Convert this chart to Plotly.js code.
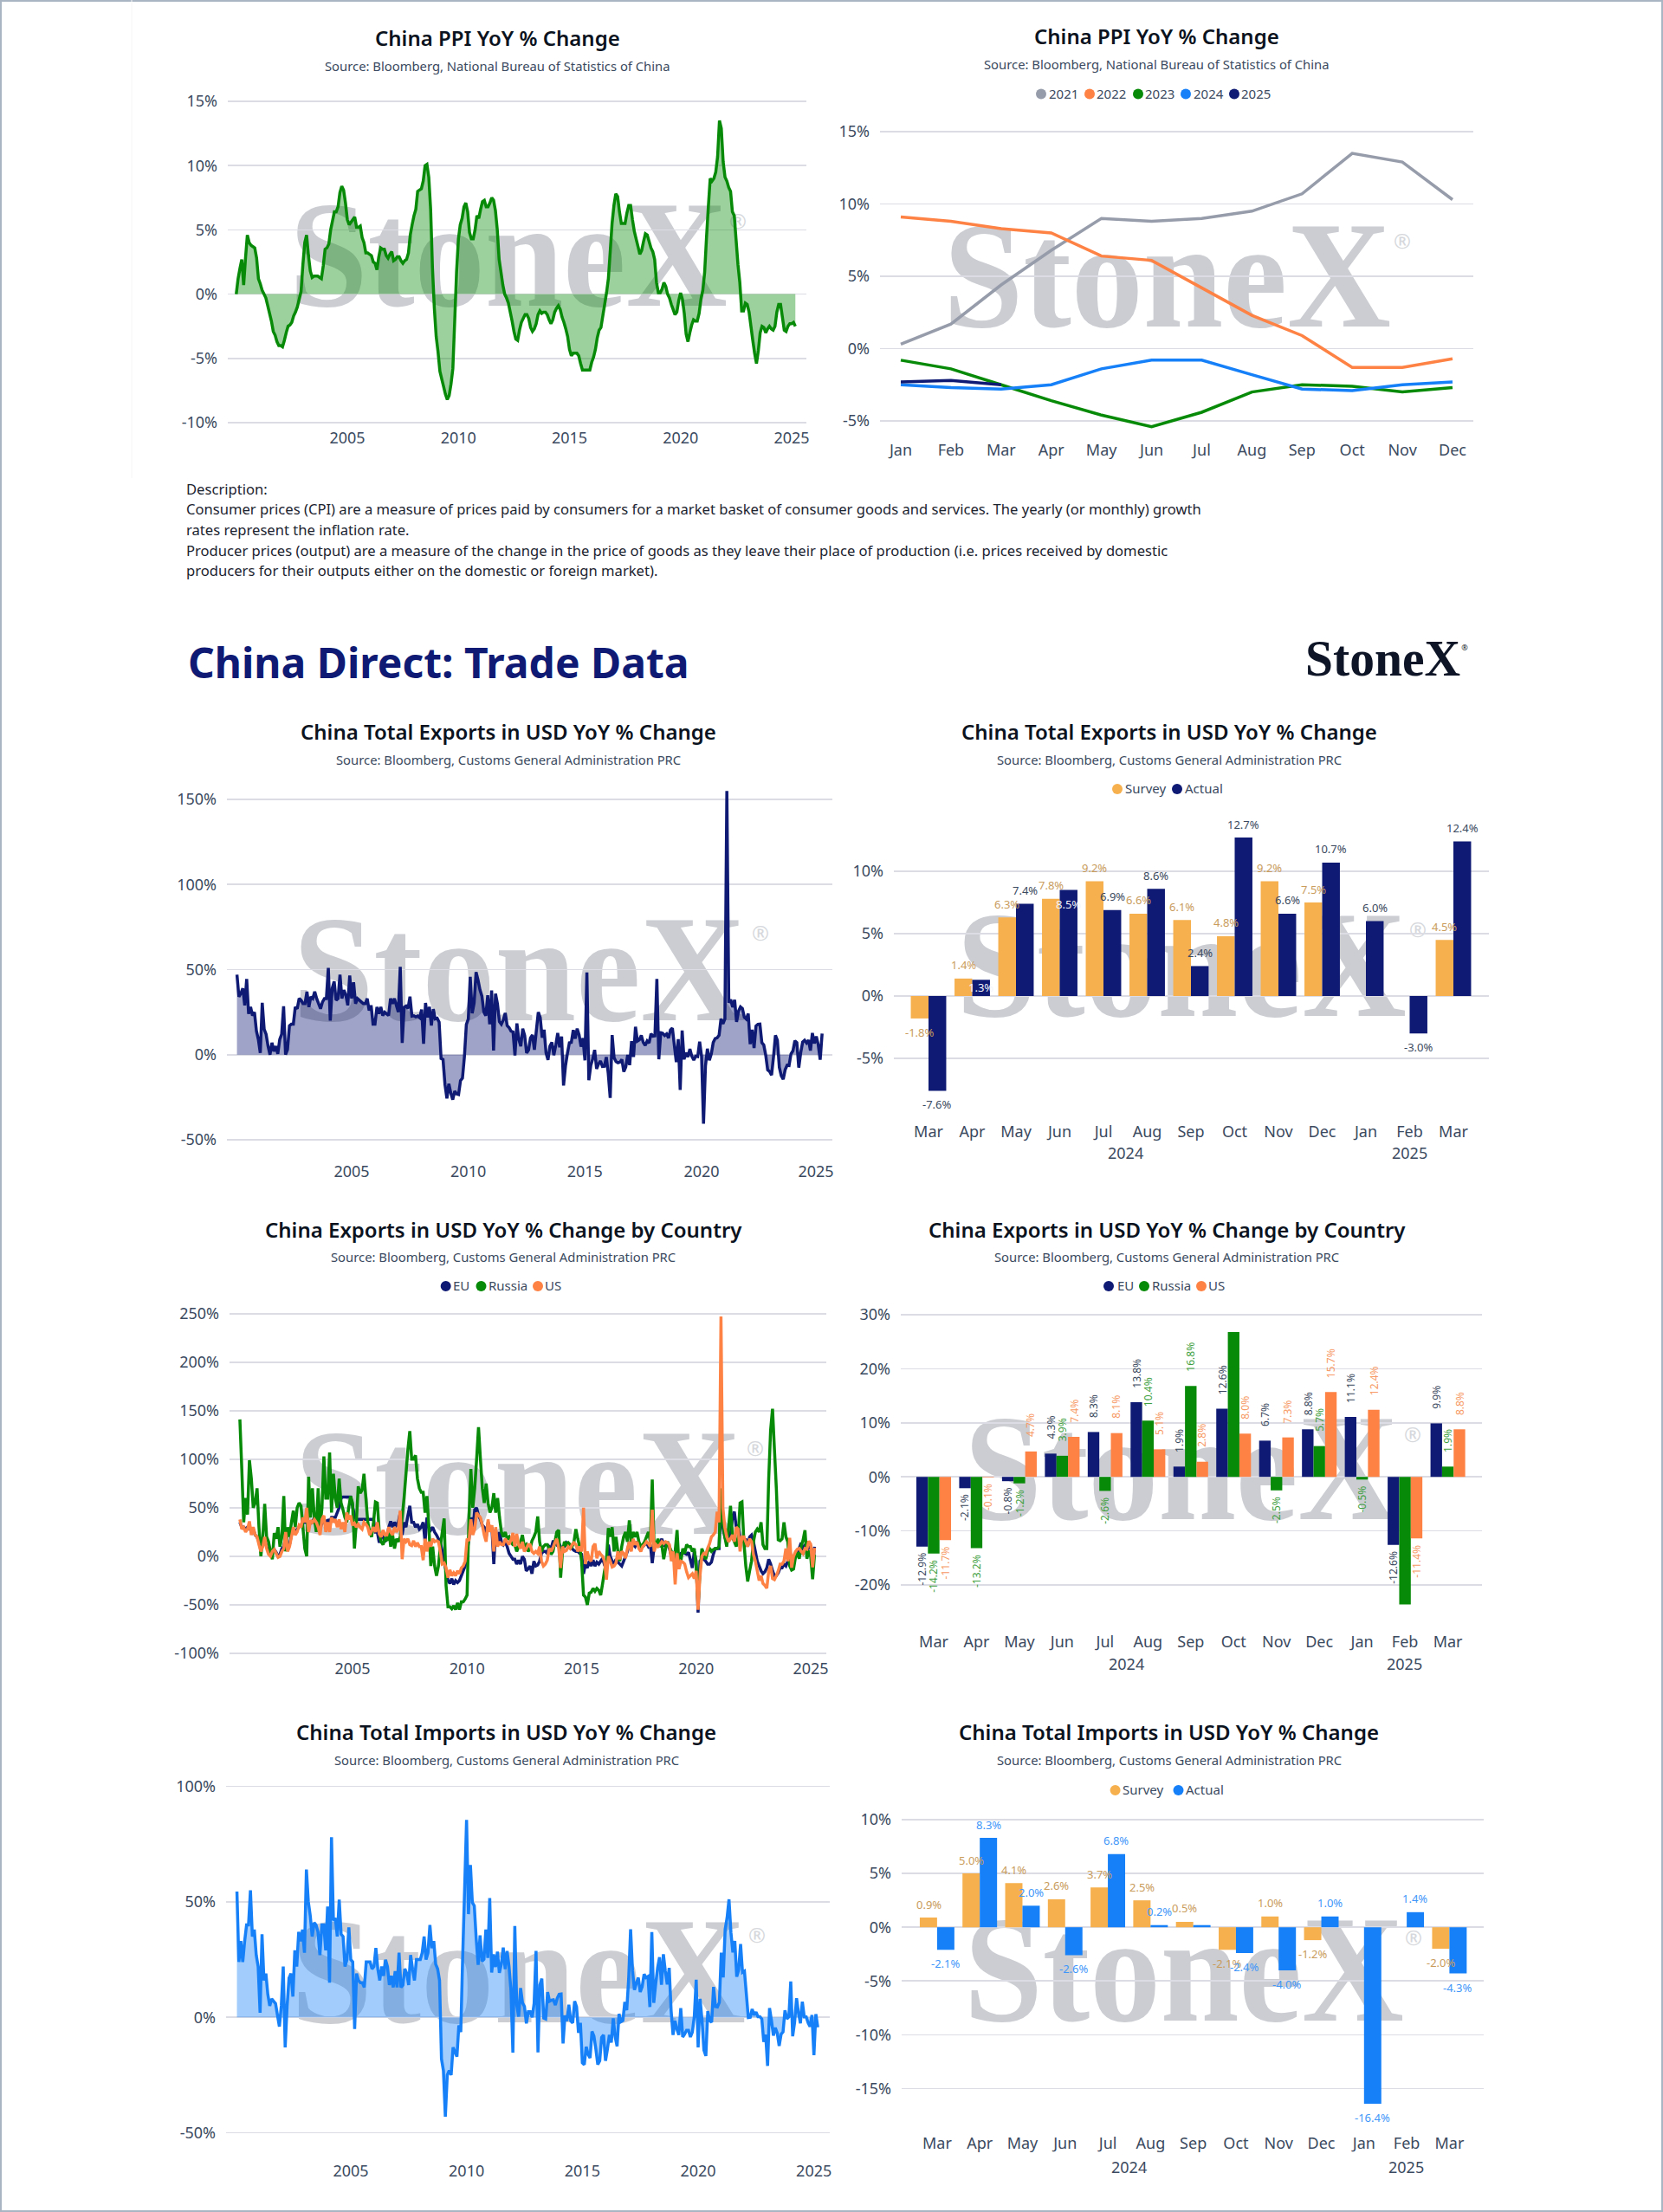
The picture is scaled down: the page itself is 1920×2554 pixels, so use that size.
<!DOCTYPE html>
<html><head><meta charset="utf-8">
<script src="https://cdn.plot.ly/plotly-3.0.1.min.js"></script>
<style>
html,body{margin:0;padding:0;background:#fff}
#page{position:relative;width:1920px;height:2554px;overflow:hidden}
#bg{position:absolute;left:0;top:0}
#plot{position:absolute;left:0;top:0;width:1920px;height:2554px}
</style></head><body>
<div id="page">
<svg id="bg" width="1920" height="2554" xmlns="http://www.w3.org/2000/svg"></svg>
<div id="plot"></div>
</div>
<script>
// ---------- DATA ----------
const months=['Jan','Feb','Mar','Apr','May','Jun','Jul','Aug','Sep','Oct','Nov','Dec'];
const months13=['Mar','Apr','May','Jun','Jul','Aug','Sep','Oct','Nov','Dec','Jan','Feb','Mar'];
const yearTicks=[2005,2010,2015,2020,2025];
const ppi2021=[0.3,1.7,4.4,6.8,9.0,8.8,9.0,9.5,10.7,13.5,12.9,10.3];
const ppi2022=[9.1,8.8,8.3,8.0,6.4,6.1,4.2,2.3,0.9,-1.3,-1.3,-0.7];
const ppi2023=[-0.8,-1.4,-2.5,-3.6,-4.6,-5.4,-4.4,-3.0,-2.5,-2.6,-3.0,-2.7];
const ppi2024=[-2.5,-2.7,-2.8,-2.5,-1.4,-0.8,-0.8,-1.8,-2.8,-2.9,-2.5,-2.3];
const ppi2025=[-2.3,-2.2,-2.5];
// monthly from Jan 2000
const ppiHistory=[
0,1.2,2,2.7,0.7,2.8,4.6,4,3.8,3.7,3.6,2.8,
1.2,0.8,0.3,0,-0.3,-0.9,-1.5,-2.1,-2.9,-3.2,-3.7,-4,
-4,-4.1,-3.6,-3,-2.5,-2.4,-2.2,-1.7,-1.4,-1,-0.4,0.2,
2.3,4,4.6,3,1.8,1.3,1.4,1.4,1.4,1.3,1.2,2.2,
3.5,3.6,3.9,5,5.7,6.4,6.4,6.8,7.9,8.4,8.1,7.1,
5.8,5.4,5.6,5.8,6,5.2,5.2,5.3,4.4,4,3.2,3.2,
3.1,3,2.5,2.4,1.9,2.9,3.6,3.5,3.5,3,2.8,3.1,
3.3,2.6,2.7,2.9,2.9,2.6,2.4,2.6,2.7,3.2,4.6,5.4,
6.1,6.6,8,8.1,8.2,8.8,10,10.1,9.1,6.6,2,-1.1,
-3.3,-4.5,-6,-6.6,-7.2,-7.8,-8.2,-7.9,-7,-5.8,-2.1,1.7,
4.3,5.4,5.9,6.8,7.1,6.4,4.8,4.3,4.3,5,6.1,5.9,
6.6,7.2,7.3,6.8,6.8,7.1,7.5,7.3,6.5,5,2.7,1.7,
0.7,0,-0.3,-0.7,-1.4,-2.1,-2.9,-3.5,-3.6,-2.8,-2.2,-1.9,
-1.6,-1.6,-1.9,-2.6,-2.9,-2.7,-2.3,-1.6,-1.3,-1.5,-1.4,-1.4,
-1.6,-2,-2.3,-2,-1.4,-1.1,-0.9,-1.2,-1.8,-2.2,-2.7,-3.3,
-4.3,-4.8,-4.6,-4.6,-4.6,-4.8,-5.4,-5.9,-5.9,-5.9,-5.9,-5.9,
-5.3,-4.9,-4.3,-3.4,-2.8,-2.6,-1.7,-0.8,0.1,1.2,3.3,5.5,
6.9,7.8,7.6,6.4,5.5,5.5,5.5,6.3,6.9,6.9,5.8,4.9,
4.3,3.7,3.1,3.4,4.1,4.7,4.6,4.1,3.6,3.3,2.7,0.9,
0.1,0.1,0.4,0.9,0.6,0,-0.3,-0.8,-1.2,-1.6,-1.4,-0.5,
0.1,-0.4,-1.5,-3.1,-3.7,-3,-2.4,-2,-2.1,-2.1,-1.5,-0.4];
// the following series are monthly from Feb 2000
const exportsTotal=[
47,34,36,39,29,44.5,24,28,23,25,14,9,
1,30.5,15,12,5,0,7,2,5,0.5,9,12,
28.5,0,3,17,18,18,28,27,33,32,30,30,
37,28,34,33,37,33,30,27,31,33,33,51,
20,39,43,32,33,47,33,38,35,29,46.5,33,
42.5,30,33,32,31,30,30,33,26,29,18,18,
28,24,28,23,25,24,23,33,30,33,29,25,
51.6,6.9,27.9,28.6,27.2,34.1,22.7,22.9,22.2,22.7,21.7,26.5,
6.4,30.4,21.9,28.1,17.2,26.8,21,21.4,19.1,-2.2,-2.8,-17.5,
-25.7,-17.1,-22.6,-26.4,-21.4,-23,-23.4,-15.2,-13.8,-1.2,17.7,21,
45.7,24.3,30.4,48.5,43.9,38.1,34.4,25.1,22.9,34.9,17.9,37.7,
2.4,35.8,29.9,19.4,17.9,20.4,24.5,17.1,15.9,13.8,13.4,-0.5,
18.4,8.9,4.9,15.3,11.3,1,2.7,9.9,11.6,2.9,14.1,25,
21.8,10,14.7,1,-3.1,5.1,7.2,-0.3,5.6,12.7,4.3,10.6,
-18.1,-6.6,0.9,7,7.2,14.5,9.4,15.3,11.6,4.7,9.7,-3.3,
48.3,-15,-6.4,-2.5,2.8,-8.3,-5.5,-3.7,-6.9,-6.8,-1.4,-11.2,
-25.4,11.5,-1.8,-4.1,-4.8,-4.4,-2.8,-10,-7.3,-0.2,-6.1,7.9,
-1.3,16.4,8,8.7,11.3,7.2,5.5,8.1,6.9,12.3,10.9,11.1,
44.5,-2.7,12.9,12.6,11.3,12.2,9.8,14.5,15.6,5.4,-4.4,9.1,
-20.7,14.2,-2.7,1.1,-1.3,3.3,-1,-3.2,-0.9,-1.1,7.6,-1,
-40.6,-6.6,3.5,-3.3,0.5,7.2,9.5,9.9,11.4,21.1,18.1,21,
154.9,30.6,32.3,27.9,32.2,19.3,25.6,28.1,27.1,22,20.9,24.1,
6.2,14.7,3.9,16.9,17.9,18,7.1,5.7,-0.3,-8.9,-9.9,-12,
-1.3,11.4,8.5,-7.5,-12.4,-14.5,-8.8,-6.2,-6.4,0.5,2.3,8.2,
7.1,-7.6,1.3,7.4,8.5,6.9,8.6,2.4,12.7,6.6,10.7,6,
-3,12.4];
const importsTotal=[
54.5,24,33,24,33,40,40,55,35,38,27,22,
2,36,16,19,10,5,8,7,6,1,-4,5,
22,-13,5,17,19,9,29,22,37,33,38,28,
64,50,44,35,41,40,37,27,40,40,29,48,
15,78,42,43,35,51,36,35,22,25,39,25,
24,-5,19,16,15,15,13,24,24,24,21,22,
30,21,16,22,18,25,22,14,18,13,20,13,
28,13,14,21,19,14,27,21,16,25,25,25,
28,35,25,28,40,30,33,23,21,16,-18,-23,
-43,-25,-23,-25,-13,-15,-17,-3.5,-6.4,26.7,55.9,85.5,
44.7,66,49.7,48.3,34,22.7,35.5,24.3,25.1,38,25.7,51.6,
19.4,27.3,21.8,28.4,19.3,23,30.2,20.9,28.7,22.1,11.8,-15.3,
39.6,5.3,0.3,12.7,6.3,4.7,-2.6,2.4,2.4,0,6,28.8,
-15.2,14.1,16.8,-0.3,-0.7,10.9,7,7.4,7.6,5.3,8.3,10,
10.1,-11.3,0.8,-1.6,5.5,-1.6,-2.4,7,4.6,-6.7,-2.4,-19.7,
-20.5,-12.7,-16.1,-17.6,-6.1,-8.1,-13.8,-20.4,-18.8,-8.7,-7.6,-18.8,
-13.8,-7.6,-10.9,-0.4,-8.4,-12.5,1.5,-1.9,-1.4,6.7,3.1,16.7,
38.1,20.3,11.9,14.8,17.2,11,13.3,18.7,17.2,17.7,4.5,36.9,
6.3,14.4,21.5,26,14.1,27.3,20,14.3,21.4,3,-7.6,-1.5,
-5.2,-7.6,4,-8.5,-7.3,-5.6,-5.6,-8.5,-6.4,0.3,16.3,-13,
8,-1,-14.2,-16.7,2.7,-1.4,-2.1,13.2,4.7,4.5,6.5,28,
17.3,38.1,43.1,51.1,36.7,28.1,33.1,17.6,20.6,31.7,19.5,20,
10,-0.1,0,3.6,1,2.3,0.3,0.3,-0.7,-10.6,-7.5,-21,
4,-1.4,-7.9,-4.5,-6.8,-12.4,-7.3,-6.3,3,-0.6,0.2,15.5,
-8.2,-2.1,8.3,2,-2.6,6.8,0.2,0.2,-2.4,-4,1,-16.4,
1.4,-4.3];
const euHistory=[
35,30,30,28,30,30,25,28,22,20,15,8,
15,18,10,5,2,6,7,4,0,2,8,10,
20,8,12,22,28,25,28,30,32,35,35,42,
30,35,35,40,35,30,28,35,40,30,38,35,
40,40,40,45,50,60,61,61,61,61,61,52,
42,38,38,38,38,38,38,38,38,38,38,25,
25,14,22,20,15,18,30,36,30,35,32,35,
45,22,35,30,42,52,35,35,30,33,28,30,
35,15,40,30,27,30,25,22,18,15,5,-6,
-15,-25,-28,-23,-29,-25,-27,-25,-20,-15,-10,5,
18,40,25,48,50,42,38,32,30,20,35,28,
30,-8,28,12,25,15,12,15,10,3,0,-3,
-3,-8,-4,-8,0,-3,-15,-13,-10,-18,-5,-10,
-9,-5,3,5,5,3,10,8,15,15,12,14,
10,8,10,14,12,10,8,6,5,5,3,2,
-18,-8,-12,-5,-10,-4,-10,-6,-8,-5,-2,-9,
-10,12,0,-5,-8,-3,-6,-8,-10,-5,0,5,
15,10,12,10,15,12,8,10,12,14,10,12,
-7,10,12,15,13,18,12,10,15,8,0,5,
-10,-3,0,3,4,3,2,4,-4,-12,5,-5,
-58,-5,-3,-3,-5,-8,-8,-6,2,8,8,8,
60,30,20,14,18,22,40,46,30,32,20,15,
15,18,10,20,22,15,5,-5,-10,-15,-18,-16,
-12,-3,-8,-15,-20,-20,-17,-12,-12,-8,-10,-5,
10,-12.9,-2.1,-0.8,4.3,8.3,13.8,1.9,12.6,6.7,8.8,11.1,
-12.6,9.9];
const russiaHistory=[
141,90,35,60,43,99,80,50,55,70,30,0,
20,54,20,15,5,-3,24,18,30,10,20,62,
5,30,20,35,47,30,50,55,52,30,8,0,
82,40,70,40,25,70,30,50,103,60,60,107,
45,85,60,50,80,55,48,40,35,50,62,55,
8,35,72,65,68,85,60,35,25,20,35,56,
55,25,15,12,18,16,28,10,22,8,18,15,
20,40,60,85,110,129,100,100,104,80,70,66,
66,45,62,30,-10,10,-10,-20,-10,10,25,39,
-30,-52,-52,-54,-51,-55,-48,-55,-47,-47,-44,-40,
40,90,50,70,100,133,100,70,55,75,55,45,
50,65,45,60,40,25,20,25,18,20,15,12,
12,5,10,15,22,10,12,5,8,16,20,25,
41,15,5,10,12,12,8,2,5,15,25,27,
-22,5,15,12,14,12,10,15,28,18,10,-5,
-40,-42,-50,-38,-37,-33,-36,-33,-35,-40,-28,-15,
-5,29,20,30,5,20,5,-5,10,20,25,15,
37,15,25,20,25,15,10,12,15,20,25,15,
79,8,12,18,10,12,-3,8,15,10,5,-5,
5,27,-10,-5,8,3,12,10,10,5,8,-10,
-50,-15,8,2,-3,5,8,5,7,8,8,10,
70,35,20,10,30,52,20,15,10,20,55,56,
15,-10,-26,-15,-5,15,25,28,25,35,12,8,
8,80,130,152,110,70,17,16,18,35,20,15,
-10,-14.2,-13.2,-1.2,3.9,-2.6,10.4,16.8,26.8,-2.5,5.7,-0.5,
-23.6,1.9];
const usHistory=[
38,28,30,25,28,36,22,30,22,20,12,5,
10,20,8,2,0,5,7,3,-1,0,5,8,
25,5,10,20,30,22,25,32,30,40,35,50,
25,37,35,38,35,30,22,38,42,25,35,25,
40,35,38,30,38,28,35,25,45,38,42,32,
34,30,33,30,28,35,33,30,22,26,30,25,
35,23,20,27,22,22,30,25,22,30,25,28,
47,-3,18,15,18,12,11,16,10,14,10,10,
-4,18,5,15,10,18,15,16,15,5,-8,-7,
-12,-22,-14,-20,-17,-20,-15,-18,-12,-10,-5,18,
16,38,22,28,45,42,40,32,22,15,38,25,
32,5,30,10,15,12,12,18,15,12,17,24,
10,23,12,8,15,5,8,12,12,5,3,5,
3,10,-5,-10,-8,-4,8,5,9,14,18,8,
-12,10,5,6,10,8,12,14,12,5,10,5,
50,-8,5,-3,-5,10,13,-2,5,2,0,-5,
-24,0,-5,-11,-10,-7,5,-3,5,3,-2,8,
15,5,18,12,15,8,5,10,12,15,13,10,
48,5,12,10,12,15,13,15,14,12,-5,5,
-29,3,-13,-5,-6,-8,-16,-22,-20,-18,-23,-15,
-55,-20,0,3,2,8,13,20,22,25,46,35,
247,50,30,20,15,18,22,15,30,28,5,20,
20,15,10,18,15,2,-5,-15,-25,-20,-28,-30,
-33,-15,-10,-23,-24,-20,-15,-8,-8,-5,8,-5,
19,-11.7,-0.1,4.7,7.4,8.1,5.1,2.8,8,7.3,15.7,12.4,
-11.4,8.8];
const expSurvey=[-1.8,1.4,6.3,7.8,9.2,6.6,6.1,4.8,9.2,7.5,null,null,4.5];
const expActual=[-7.6,1.3,7.4,8.5,6.9,8.6,2.4,12.7,6.6,10.7,6.0,-3.0,12.4];
const byEU=[-12.9,-2.1,-0.8,4.3,8.3,13.8,1.9,12.6,6.7,8.8,11.1,-12.6,9.9];
const byRussia=[-14.2,-13.2,-1.2,3.9,-2.6,10.4,16.8,26.8,-2.5,5.7,-0.5,-23.6,1.9];
const byUS=[-11.7,-0.1,4.7,7.4,8.1,5.1,2.8,8.0,7.3,15.7,12.4,-11.4,8.8];
const impSurvey=[0.9,5.0,4.1,2.6,3.7,2.5,0.5,-2.1,1.0,-1.2,null,null,-2.0];
const impActual=[-2.1,8.3,2.0,-2.6,6.8,0.2,0.2,-2.4,-4.0,1.0,-16.4,1.4,-4.3];

const ppiFull=ppiHistory.concat(ppi2021,ppi2022,ppi2023,ppi2024,ppi2025);
const descLines=['Description:',
'Consumer prices (CPI) are a measure of prices paid by consumers for a market basket of consumer goods and services. The yearly (or monthly) growth',
'rates represent the inflation rate.',
'Producer prices (output) are a measure of the change in the price of goods as they leave their place of production (i.e. prices received by domestic',
'producers for their outputs either on the domestic or foreign market).'];

// ---------- STYLE ----------
const W=1920,H=2554;
const FONT='"Noto Sans", sans-serif';
const NAVY='#0e1a73',GREEN='#078a07',BLUE='#1580f8',ORANGE='#fd8244',GRAY='#979cab',SURVEY='#f6b04d';
const TICK='#3b4a60',GRID='#dcdde4',SURVEYTXT='#c99c5c',GREENTXT='#3f9f3f',USTXT='#f79a66',BLUETXT='#3f97f9';
const SRC1='Source: Bloomberg, National Bureau of Statistics of China';
const SRC2='Source: Bloomberg, Customs General Administration PRC';
const px=x=>x/W, py=y=>1-y/H;
const traces=[],annotations=[],shapes=[],layout={};
function calib(p1,v1,p2,v2,a,b){const f=p=>v1+(p-p1)*(v2-v1)/(p2-p1);return [f(a),f(b)];}
function rgba(hex,a){const n=parseInt(hex.slice(1),16);return `rgba(${n>>16},${(n>>8)&255},${n&255},${a})`;}
function txt(text,x,y,size,color,opt){annotations.push(Object.assign({text,x:px(x),y:py(y),xref:'paper',yref:'paper',showarrow:false,xanchor:'center',yanchor:'middle',font:{family:FONT,size,color}},opt||{}));}

function addChart(n,c){
  const xn=n==1?'xaxis':'xaxis'+n, yn=n==1?'yaxis':'yaxis'+n;
  layout[xn]={domain:[px(c.L),px(c.R)],range:calib(...c.xc,c.L,c.R),anchor:'y'+(n==1?'':n),showgrid:false,zeroline:false,showline:false,
    tickmode:'array',tickvals:c.xv,ticktext:c.xt,ticks:'',tickfont:{family:FONT,size:18,color:TICK},ticklabelstandoff:c.xStand,tickangle:0,type:'linear'};
  layout[yn]={domain:[py(c.B),py(c.T)],range:calib(...c.yc,c.B,c.T),anchor:'x'+(n==1?'':n),showgrid:true,gridcolor:GRID,gridwidth:1.7,zeroline:false,showline:false,
    tickmode:'array',tickvals:c.yv,ticktext:c.yv.map(v=>v+'%'),ticks:'',tickfont:{family:FONT,size:18,color:TICK},ticklabelstandoff:11,type:'linear'};
  txt(c.title,c.cx,c.ty-1.5,24,'#0b1220',{font:{family:FONT,size:24,color:'#0b1220',weight:600}});
  txt(c.sub,c.cx,c.sy-1,14.8,TICK);
}
function legend(items,y){items.forEach(it=>{
  shapes.push({type:'circle',xref:'paper',yref:'paper',x0:px(it.dot-6),x1:px(it.dot+6),y0:py(y+6),y1:py(y-6),fillcolor:it.color,line:{width:0}});
  txt(it.name,it.text-2,y-1,15,TICK,{xanchor:'left'});
});}
const xOf=(arr,start)=>arr.map((_,i)=>start+i/12);
const R=n=>({xaxis:'x'+(n==1?'':n),yaxis:'y'+(n==1?'':n)});
function line(n,x,y,color,fill){traces.push(Object.assign({type:'scatter',mode:'lines',x,y,line:{color,width:3.5,simplify:false},hoverinfo:'skip',showlegend:false},
  fill?{fill:'tozeroy',fillcolor:rgba(color,0.4)}:{},R(n)));}
function bars(n,y,color,name){traces.push(Object.assign({type:'bar',x:y.map((_,i)=>i),y,name,marker:{color,line:{width:0}},hoverinfo:'skip',showlegend:false},R(n)));}
function barLabel(n,ix,off,v,color,size,opt){
  annotations.push(Object.assign({x:ix+off,y:v,xref:'x'+n,yref:'y'+n,text:v.toFixed(1)+'%',showarrow:false,xanchor:'center',yanchor:'middle',yshift:v>=0?15.5:-16,font:{family:FONT,size,color}},opt||{}));
}

// ---------- CHARTS ----------
const y1Ticks=[-10,-5,0,5,10,15];
addChart(1,{L:263,R:931,T:115,B:490,xc:[401,2005,914,2025],yc:[117,15,488,-10],xv:yearTicks,xt:yearTicks.map(String),xStand:3,yv:y1Ticks,
  title:'China PPI YoY % Change',sub:SRC1,cx:574,ty:44.6,sy:76.8});
line(1,xOf(ppiFull,2000),ppiFull,GREEN,true);

addChart(2,{L:1016,R:1701,T:150,B:505,xc:[1040,0,1677,11],yc:[152,15,486,-5],xv:months.map((_,i)=>i),xt:months,xStand:2,yv:[-5,0,5,10,15],
  title:'China PPI YoY % Change',sub:SRC1,cx:1335,ty:43,sy:75});
[[ppi2021,GRAY],[ppi2022,ORANGE],[ppi2023,GREEN],[ppi2024,BLUE],[ppi2025,NAVY]].forEach(([d,c])=>line(2,d.map((_,i)=>i),d,c,false));
legend([{name:'2021',color:GRAY,dot:1202,text:1211},{name:'2022',color:ORANGE,dot:1258,text:1266},{name:'2023',color:GREEN,dot:1314,text:1322},{name:'2024',color:BLUE,dot:1369,text:1378},{name:'2025',color:NAVY,dot:1425,text:1433}],108.5);

addChart(3,{L:262,R:961,T:905,B:1320,xc:[406,2005,810,2020],yc:[923,150,1316,-50],xv:[2005,2010,2015,2020,2024.9],xt:yearTicks.map(String),xStand:20,yv:[-50,0,50,100,150],
  title:'China Total Exports in USD YoY % Change',sub:SRC2,cx:587,ty:846,sy:878});
line(3,xOf(exportsTotal,2000+1/12),exportsTotal,NAVY,true);

const mIdx=months13.map((_,i)=>i);
addChart(4,{L:1032,R:1719,T:930,B:1285,xc:[1072,0,1678,12],yc:[1006,10,1222,-5],xv:mIdx,xt:months13,xStand:9,yv:[-5,0,5,10],
  title:'China Total Exports in USD YoY % Change',sub:SRC2,cx:1350,ty:846,sy:878});
bars(4,expSurvey,SURVEY,'Survey');bars(4,expActual,NAVY,'Actual');
expSurvey.forEach((v,i)=>{if(v!==null)barLabel(4,i,-0.2,v,SURVEYTXT,13);});
expActual.forEach((v,i)=>{const inside=(v===1.3||v===8.5);barLabel(4,i,0.2,v,inside?'#f4f5fa':TICK,13,inside?{yshift:v===1.3?-9:-16}:{});});
legend([{name:'Survey',color:SURVEY,dot:1290,text:1299},{name:'Actual',color:NAVY,dot:1359,text:1368}],911);
txt('2024',1299,1331,18,TICK);txt('2025',1627.5,1331,18,TICK);

addChart(5,{L:265,R:954,T:1514,B:1912,xc:[407,2005,936,2025],yc:[1516.7,250,1909,-100],xv:yearTicks,xt:yearTicks.map(String),xStand:2,yv:[-100,-50,0,50,100,150,200,250],
  title:'China Exports in USD YoY % Change by Country',sub:SRC2,cx:581,ty:1421,sy:1452});
[[euHistory,NAVY],[russiaHistory,GREEN],[usHistory,ORANGE]].forEach(([d,c])=>line(5,xOf(d,2000+1/12),d,c,false));
legend([{name:'EU',color:NAVY,dot:514.7,text:523},{name:'Russia',color:GREEN,dot:555.5,text:563.7},{name:'US',color:ORANGE,dot:621,text:629}],1485);

addChart(6,{L:1040,R:1711,T:1515,B:1875,xc:[1078,0,1671.6,12],yc:[1518,30,1830,-20],xv:mIdx,xt:months13,xStand:8,yv:[-20,-10,0,10,20,30],
  title:'China Exports in USD YoY % Change by Country',sub:SRC2,cx:1347,ty:1421,sy:1452});
bars(6,byEU,NAVY,'EU');bars(6,byRussia,GREEN,'Russia');bars(6,byUS,ORANGE,'US');
function rot(ix,off,v,color){annotations.push({x:ix+off,y:v,xref:'x6',yref:'y6',text:v.toFixed(1)+'%',showarrow:false,textangle:-90,xanchor:'center',yanchor:v>=0?'bottom':'top',yshift:v>=0?14.5:-5,font:{family:FONT,size:12,color}});}
byEU.forEach((v,i)=>rot(i,-0.267,v,TICK));
byRussia.forEach((v,i)=>{if(i!==7&&i!==11)rot(i,0,v,GREENTXT);});
byUS.forEach((v,i)=>rot(i,0.267,v,USTXT));
legend([{name:'EU',color:NAVY,dot:1280,text:1289.5},{name:'Russia',color:GREEN,dot:1321,text:1330},{name:'US',color:ORANGE,dot:1387,text:1395}],1485);
txt('2024',1300.5,1920.5,18,TICK);txt('2025',1621,1920.5,18,TICK);

addChart(7,{L:261,R:958,T:2060,B:2465,xc:[405,2005,939.7,2025],yc:[2062.6,100,2462.6,-50],xv:yearTicks,xt:yearTicks.map(String),xStand:29,yv:[-50,0,50,100],
  title:'China Total Imports in USD YoY % Change',sub:SRC2,cx:584.6,ty:2001,sy:2033});
line(7,xOf(importsTotal,2000+1/12),importsTotal,BLUE,true);

addChart(8,{L:1041,R:1713,T:2098,B:2452,xc:[1081.9,0,1673.4,12],yc:[2101,10,2411.5,-15],xv:mIdx,xt:months13,xStand:10,yv:[-15,-10,-5,0,5,10],
  title:'China Total Imports in USD YoY % Change',sub:SRC2,cx:1349.5,ty:2001,sy:2033});
bars(8,impSurvey,SURVEY,'Survey');bars(8,impActual,BLUE,'Actual');
impSurvey.forEach((v,i)=>{if(v!==null)barLabel(8,i,-0.2,v,SURVEYTXT,13);});
impActual.forEach((v,i)=>{if(i!==6)barLabel(8,i,0.2,v,BLUETXT,13);});
legend([{name:'Survey',color:SURVEY,dot:1287.6,text:1296},{name:'Actual',color:BLUE,dot:1360.5,text:1369}],2067);
txt('2024',1303,2501.7,18,TICK);txt('2025',1623.8,2501.7,18,TICK);

// ---------- PAGE TEXT ----------
const descY=[565,588.4,612,636,659.4];
descLines.forEach((t,i)=>txt(t,213,descY[i]-1,16.6,'#1c2430',{xanchor:'left'}));
txt('China Direct: Trade Data',215,765,48,NAVY,{xanchor:'left',font:{family:FONT,size:48,color:NAVY,weight:700}});

// watermark and logo text lie behind the transparent plot
const SERIF='Liberation Serif';
const marks=[[334,353,506,852,256],[1089,377,517,1619,279],[338,1178,523,878,1078],[1104,1173,520,1637,1074],[340,1771,516,872,1673],[1113,1754,502,1631,1657],[336,2335,525,874,2235],[1113,2333,508,1632,2238]];
let svg='<rect x="1" y="1" width="1918" height="2552" fill="none" stroke="#aab5c4" stroke-width="2"/><line x1="152" y1="0" x2="152" y2="552" stroke="#f6f6f6" stroke-width="1"/>';
marks.forEach(m=>{svg+=`<text x="${m[0]}" y="${m[1]}" font-family="${SERIF}" font-weight="bold" font-size="176" fill="#cbcdd2" textLength="${m[2]}" lengthAdjust="spacingAndGlyphs">StoneX</text><text x="${m[3]}" y="${m[4]+8}" text-anchor="middle" font-family="Noto Sans" font-size="24" fill="#d6d8dc">®</text>`;});
svg+=`<text x="1507" y="780" font-family="${SERIF}" font-weight="bold" font-size="60" fill="#0e1526" textLength="179" lengthAdjust="spacingAndGlyphs">StoneX</text><text x="1691" y="751" text-anchor="middle" font-family="Noto Sans" font-size="9" fill="#0e1526">®</text>`;
document.getElementById('bg').innerHTML=svg;

Object.assign(layout,{width:W,height:H,margin:{l:0,r:0,t:0,b:0},paper_bgcolor:'rgba(0,0,0,0)',plot_bgcolor:'rgba(0,0,0,0)',showlegend:false,barmode:'group',bargap:0.19,bargroupgap:0,annotations,shapes,hovermode:false,font:{family:FONT}});
Plotly.newPlot('plot',traces,layout,{staticPlot:true,displayModeBar:false});
</script>
</body></html>
